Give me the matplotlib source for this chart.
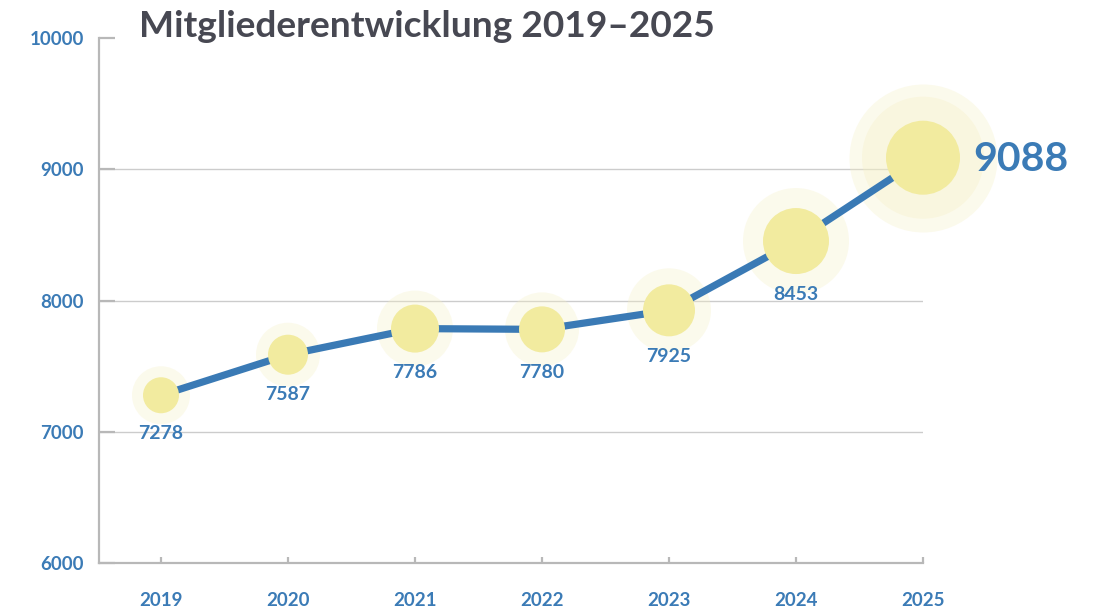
import matplotlib.pyplot as plt

years = [2019, 2020, 2021, 2022, 2023, 2024, 2025]
members = [7278, 7587, 7786, 7780, 7925, 8453, 9088]
y_ticks = [6000, 7000, 8000, 9000, 10000]

# bubble radii in pixels (inner circle, halo)
inner_px = [18, 20, 24, 23, 26, 33, 37]
halo_px = [29, 32, 38, 37, 42, 53, 61]

blue = "#3b7bb6"
px = 0.72  # points per pixel at dpi 100

plt.rcParams["font.family"] = ["Lato", "DejaVu Sans"]

fig = plt.figure(figsize=(10.96, 6.10), dpi=100)
ax = fig.add_axes([99 / 1096, 1 - 563 / 610, (923 - 99) / 1096, (563 - 38) / 610])

# halos
ax.scatter(years, members, s=[(2 * r * px) ** 2 for r in halo_px],
           color="#f5f0c4", alpha=0.32, linewidths=0, zorder=2, clip_on=False)
# extra outer halo for latest year
ax.scatter(years[-1:], members[-1:], s=[(2 * 74 * px) ** 2],
           color="#f5f0c4", alpha=0.32, linewidths=0, zorder=2, clip_on=False)

ax.plot(years, members, color="#3a7ab5", linewidth=5.2, zorder=3,
        solid_capstyle="butt")

ax.scatter(years, members, s=[(2 * r * px) ** 2 for r in inner_px],
           color="#f2eb9f", linewidths=0, zorder=4, clip_on=False)

for i in range(len(years) - 1):
    ax.annotate(str(members[i]), (years[i], members[i]),
                xytext=(0, -(inner_px[i] + 20) * px), textcoords="offset points",
                ha="center", va="center", fontsize=14, fontweight="bold",
                color=blue, zorder=5)
ax.annotate(str(members[-1]), (years[-1], members[-1]),
            xytext=(50 * px, -2 * px), textcoords="offset points",
            ha="left", va="center", fontsize=29.5, fontweight="bold",
            color=blue, zorder=5, annotation_clip=False)

ax.set_xlim(2019 - 62 / 127, 2025)
ax.set_ylim(6000, 10000)
ax.set_xticks(years)
ax.set_yticks(y_ticks)

for side in ["top", "right"]:
    ax.spines[side].set_visible(False)
for side in ["left", "bottom"]:
    ax.spines[side].set_color("#b8b8b8")
    ax.spines[side].set_linewidth(1.6)

ax.tick_params(axis="y", direction="in", length=11.5, width=1.6, color="#b8b8b8",
               pad=11, labelsize=13.5, labelcolor=blue)
ax.tick_params(axis="x", direction="in", length=4.5, width=1.6, color="#b8b8b8",
               pad=21, labelsize=13.5, labelcolor=blue)
for lab in ax.get_xticklabels() + ax.get_yticklabels():
    lab.set_fontweight("bold")

ax.yaxis.grid(True, color="#cccccc", linewidth=1.0)
ax.set_axisbelow(True)
grid = ax.get_ygridlines()
grid[0].set_visible(False)
grid[-1].set_visible(False)

fig.text(139 / 1096, 1 - 37 / 610, "Mitgliederentwicklung 2019–2025",
         fontsize=26.7, fontweight="bold", color="#474852", va="baseline", ha="left")

plt.savefig("out.png", dpi=100)
